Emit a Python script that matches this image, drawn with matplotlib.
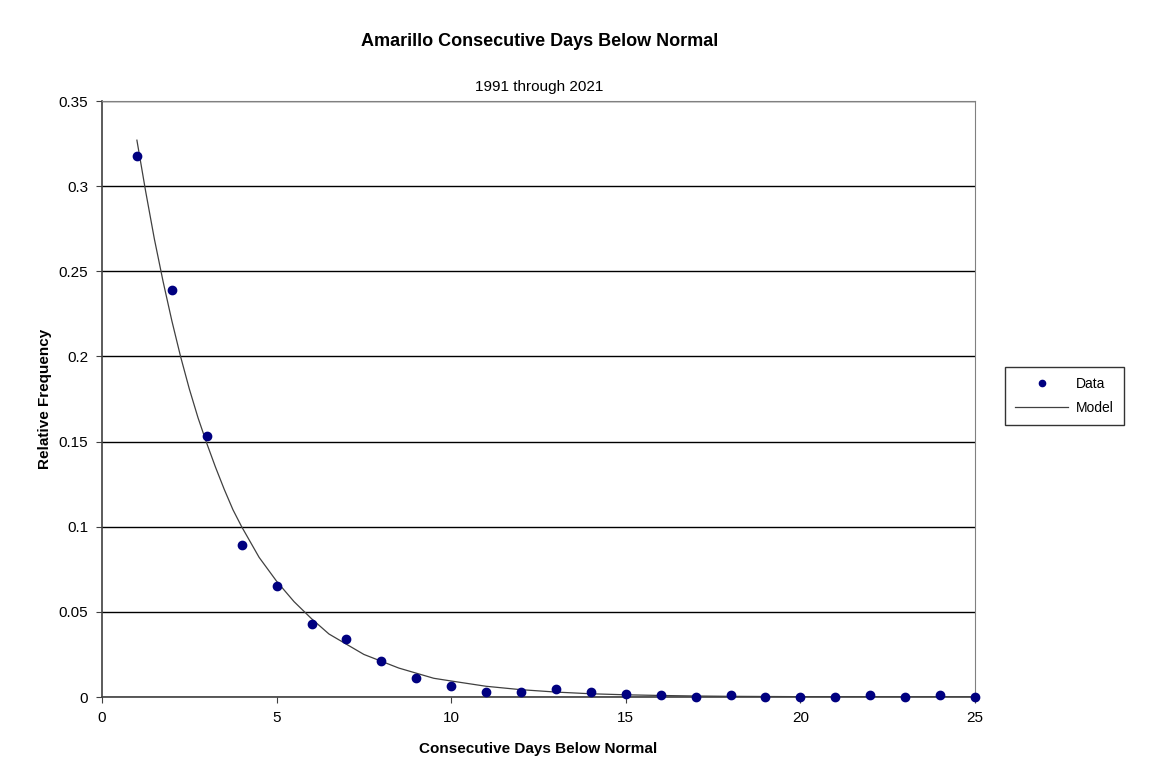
import matplotlib.pyplot as plt

plt.rcParams['font.family'] = ['Liberation Sans', 'DejaVu Sans']

# observed relative frequencies
days = list(range(1, 26))
freq = [0.318, 0.239, 0.153, 0.089, 0.065, 0.043, 0.034, 0.021, 0.011, 0.0065,
        0.003, 0.003, 0.0047, 0.003, 0.0018, 0.001, 0.0, 0.001, 0.0, 0.0,
        0.0, 0.001, 0.0, 0.001, 0.0]

# model curve
model_x = [1, 1.25, 1.5, 1.75, 2, 2.25, 2.5, 2.75, 3, 3.25, 3.5, 3.75, 4, 4.5, 5,
           5.5, 6, 6.5, 7, 7.5, 8, 8.5, 9, 9.5,
           10, 11, 12, 13, 14, 15, 16, 17, 18, 19, 20, 22, 25]
model_y = [0.327, 0.297, 0.269, 0.244, 0.221, 0.200, 0.181, 0.164, 0.149, 0.135,
           0.122, 0.110, 0.100, 0.082, 0.068, 0.056,
           0.046, 0.037, 0.031, 0.025, 0.021, 0.017, 0.014, 0.011,
           0.0094, 0.0063, 0.0043, 0.0029, 0.0019, 0.0013, 0.0009, 0.0006,
           0.0004, 0.0003, 0.0002, 0.0001, 0.00003]

fig = plt.figure(figsize=(11.51, 7.80), dpi=100)
ax = fig.add_axes([0.0886, 0.1064, 0.7585, 0.7641])

ax.plot(model_x, model_y, color='#404040', lw=0.9, label='Model', zorder=2)
ax.plot(days, freq, 'o', color='#000080', ms=6, label='Data', zorder=3, clip_on=False)

ax.set_xlim(0, 25)
ax.set_ylim(0, 0.35)
ax.set_xticks([0, 5, 10, 15, 20, 25])
ax.set_yticks([0, 0.05, 0.1, 0.15, 0.2, 0.25, 0.3, 0.35])
ax.set_yticklabels(['0', '0.05', '0.1', '0.15', '0.2', '0.25', '0.3', '0.35'])
ax.tick_params(labelsize=11, length=4, color='#404040', pad=6)
ax.grid(axis='y', color='black', lw=1)
ax.set_axisbelow(True)
for s in ['top', 'right']:
    ax.spines[s].set_color('#808080')
for s in ['left', 'bottom']:
    ax.spines[s].set_color('#404040')
    ax.spines[s].set_linewidth(1.2)

ax.set_xlabel('Consecutive Days Below Normal', fontsize=11, fontweight='bold', labelpad=12)
ax.set_ylabel('Relative Frequency', fontsize=11, fontweight='bold', labelpad=5)

fig.text(0.4686, 0.947, 'Amarillo Consecutive Days Below Normal', ha='center', va='center',
         fontsize=13, fontweight='bold')
fig.text(0.4686, 0.889, '1991 through 2021', ha='center', va='center', fontsize=11)

handles, labels = ax.get_legend_handles_labels()
leg = fig.legend(handles[::-1], labels[::-1], loc='center', bbox_to_anchor=(0.925, 0.4923),
                 fontsize=10, frameon=True, fancybox=False, edgecolor='black',
                 handlelength=3.8, handletextpad=0.6, borderpad=0.7, labelspacing=0.7,
                 borderaxespad=0)
leg.get_frame().set_linewidth(1)
leg.legend_handles[0].set_markersize(4.5)

fig.savefig('out.png', dpi=100)
